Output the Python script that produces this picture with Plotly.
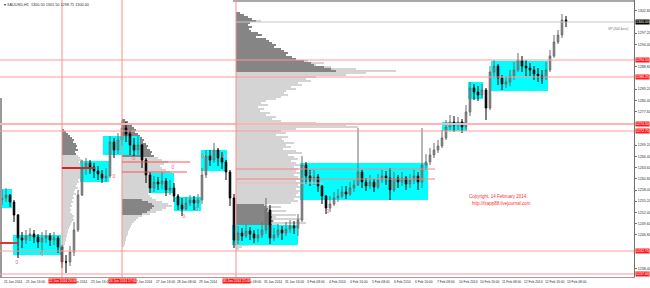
import plotly.graph_objects as go

# ---------------- price data (H1 XAUUSD, resampled) ----------------
close = [1256.0, 1256.75, 1255.0, 1251.75, 1246.0, 1245.5, 1246.5, 1247.0, 1246.25, 1245.0,
         1246.0, 1246.5, 1245.5, 1246.0, 1243.75, 1240.0, 1240.0, 1242.5, 1248.0, 1256.75,
         1263.5, 1264.75, 1263.75, 1262.75, 1262.0, 1261.0, 1261.5, 1270.0, 1268.0, 1270.5,
         1273.5, 1272.0, 1269.25, 1268.0, 1269.25, 1265.5, 1261.75, 1258.5, 1260.0, 1259.5,
         1260.25, 1258.0, 1258.5, 1256.5, 1254.25, 1253.25, 1254.75, 1255.5, 1254.75, 1255.5,
         1261.75, 1266.5, 1265.5, 1268.0, 1266.0, 1265.0, 1262.5, 1256.0, 1245.5, 1247.25,
         1246.5, 1247.75, 1247.0, 1246.0, 1246.75, 1248.0, 1253.0, 1246.0, 1246.75, 1248.0,
         1247.25, 1248.25, 1249.0, 1248.5, 1250.5, 1264.25, 1261.5, 1260.5, 1261.25, 1259.0,
         1256.5, 1253.5, 1254.5, 1256.0, 1256.5, 1257.5, 1257.0, 1258.5, 1259.25, 1262.5,
         1260.0, 1259.0, 1260.0, 1258.75, 1260.5, 1261.5, 1261.0, 1258.0, 1261.0, 1260.0,
         1261.0, 1259.5, 1260.5, 1261.5, 1260.0, 1264.25, 1265.0, 1266.75, 1268.0, 1269.0,
         1271.0, 1273.75, 1275.0, 1274.25, 1275.0, 1273.75, 1277.5, 1283.5, 1282.5, 1281.75,
         1283.0, 1278.5, 1287.5, 1289.0, 1286.0, 1284.5, 1285.0, 1286.5, 1288.0, 1290.5,
         1289.0, 1288.5, 1288.0, 1287.0, 1286.5, 1286.0, 1288.0, 1291.5, 1295.0, 1296.75,
         1300.5, 1300.0]
high = [1258.0, 1258.5, 1257.0, 1255.5, 1252.0, 1247.5, 1248.0, 1248.5, 1248.0, 1247.0,
        1247.5, 1248.0, 1247.25, 1247.5, 1246.5, 1244.25, 1241.75, 1244.0, 1250.0, 1258.0,
        1265.5, 1266.0, 1265.5, 1264.75, 1264.0, 1263.0, 1263.5, 1271.5, 1271.0, 1272.25,
        1275.5, 1275.0, 1273.0, 1271.0, 1271.5, 1269.5, 1266.0, 1262.5, 1261.5, 1261.25,
        1262.5, 1261.0, 1260.5, 1259.75, 1257.0, 1256.0, 1256.25, 1256.75, 1256.5, 1257.0,
        1263.5, 1268.0, 1268.0, 1269.75, 1268.5, 1267.5, 1265.5, 1263.0, 1257.0, 1249.0,
        1248.5, 1249.25, 1248.75, 1248.0, 1248.25, 1250.0, 1256.0, 1254.25, 1248.5, 1249.5,
        1249.0, 1250.0, 1250.5, 1250.25, 1252.0, 1266.5, 1265.0, 1263.0, 1263.0, 1262.0,
        1259.25, 1256.75, 1256.5, 1257.5, 1258.25, 1259.0, 1259.0, 1260.0, 1260.5, 1273.5,
        1263.0, 1261.0, 1261.75, 1260.75, 1262.0, 1263.0, 1262.75, 1263.5, 1262.5, 1261.75,
        1262.5, 1261.5, 1262.0, 1263.0, 1262.5, 1273.5, 1267.0, 1268.5, 1269.75, 1270.5,
        1273.0, 1275.5, 1276.75, 1276.5, 1276.25, 1275.75, 1279.25, 1285.0, 1284.5, 1284.0,
        1284.5, 1283.5, 1289.0, 1290.5, 1289.5, 1286.75, 1286.5, 1288.0, 1290.0, 1292.25,
        1291.5, 1290.5, 1289.75, 1289.0, 1288.5, 1288.0, 1290.0, 1293.0, 1296.75, 1298.0,
        1302.0, 1301.5]
low = [1254.25, 1255.0, 1253.75, 1250.0, 1241.0, 1243.5, 1244.5, 1245.25, 1244.75, 1243.5,
       1242.5, 1244.75, 1244.0, 1244.25, 1242.25, 1238.5, 1237.25, 1239.0, 1241.5, 1247.5,
       1256.5, 1261.75, 1262.0, 1261.0, 1260.5, 1259.75, 1260.0, 1261.0, 1266.0, 1267.0,
       1269.0, 1270.0, 1266.75, 1266.5, 1266.75, 1263.5, 1259.75, 1257.25, 1257.5, 1258.0,
       1258.25, 1256.5, 1256.75, 1255.0, 1253.0, 1251.5, 1253.0, 1254.0, 1253.0, 1253.5,
       1254.5, 1261.0, 1264.0, 1264.75, 1264.0, 1263.25, 1260.5, 1254.0, 1243.5, 1244.5,
       1245.25, 1246.0, 1245.5, 1244.75, 1245.0, 1246.0, 1247.0, 1244.5, 1245.25, 1246.0,
       1245.5, 1246.5, 1247.25, 1247.0, 1246.5, 1250.0, 1259.5, 1259.0, 1259.25, 1257.5,
       1254.5, 1252.0, 1252.5, 1254.0, 1255.0, 1256.0, 1255.75, 1256.5, 1257.5, 1259.0,
       1258.5, 1257.75, 1258.25, 1257.5, 1258.25, 1259.75, 1259.25, 1255.5, 1257.5, 1258.5,
       1259.0, 1258.0, 1258.5, 1259.5, 1258.0, 1258.5, 1263.0, 1264.25, 1266.0, 1267.25,
       1268.5, 1270.5, 1273.0, 1272.5, 1273.0, 1272.25, 1273.0, 1276.5, 1280.5, 1280.25,
       1281.0, 1275.5, 1278.0, 1286.0, 1284.25, 1283.0, 1283.5, 1284.0, 1285.5, 1287.5,
       1287.5, 1286.5, 1286.5, 1285.5, 1285.0, 1284.5, 1285.5, 1287.5, 1291.0, 1294.5,
       1296.0, 1298.75]
first_open = 1255.5
opens = [first_open] + close[:-1]
bars = list(range(len(close)))

# ---------------- volume profiles (volume per 0.5 price row, top row first) ----------------
ROW = 0.5
p1_start, p1_top = 15.0, 1273.0
p1_vol = [2, 4, 6, 8, 10, 12, 11, 14, 15, 14, 16, 13, 14, 16, 18, 20, 17, 22, 28, 33, 26, 22, 20, 18,
          19, 16, 17, 15, 14, 16, 13, 12, 14, 11, 12, 10, 11, 9, 10, 8, 9, 8, 10, 12, 11, 12, 10, 9,
          8, 7, 6, 6, 5, 5, 4, 4, 3, 3, 2, 2, 1]
p1_dark = [2, 4, 6, 8, 10, 12, 11, 14, 15, 14, 16, 13, 14]

p2_start, p2_top = 30.0, 1275.5
p2_vol = [3, 6, 8, 10, 12, 14, 13, 16, 18, 20, 22, 21, 24, 26, 25, 28, 30, 29, 32, 36, 40, 46, 42, 38,
          40, 44, 48, 40, 36, 38, 34, 36, 32, 30, 33, 28, 30, 26, 28, 30, 34, 40, 46, 50, 44, 40, 34, 28,
          20, 16, 14, 12, 10, 9, 8, 7, 6, 6, 5, 4, 4, 3, 3, 2]
p2_dark_top = [3, 6, 8, 10, 12, 14, 13, 16, 18, 20, 22, 21, 24, 26, 25, 28, 30, 29, 32]
p2_dark_low_top, p2_dark_low = 1255.5, [20, 26, 30, 32, 30, 28, 25, 20]

p3_start, p3_top = 58.5, 1302.25
p3_vol = [4, 8, 12, 16, 25, 14, 12, 16, 13, 15, 22, 26, 20, 30, 33, 36, 40, 38, 45, 48, 52, 50, 56, 60,
          72, 88, 80, 95, 120, 160, 130, 110, 80, 70, 75, 62, 66, 55, 60, 50, 48, 52, 45, 40, 30, 25,
          32, 22, 28, 24, 34, 30, 40, 36, 45, 80, 110, 122, 60, 45, 50, 40, 52, 46, 48, 58, 50, 55,
          47, 60, 66, 52, 58, 62, 55, 60, 64, 58, 62, 60, 66, 58, 62, 64, 60, 70, 62, 64, 60, 66, 62,
          60, 64, 58, 62, 55, 30, 45, 34, 50, 36, 60, 40, 66, 38, 70, 42, 62, 40, 55, 36, 40, 30, 44,
          25, 20, 12, 6, 3]
p3_dark_top = [4, 8, 12, 16, 20, 14, 12, 16, 13, 15, 22, 26, 20, 30, 33, 36, 40, 38, 45, 48, 52, 50,
               56, 60, 68, 75, 78, 88, 95, 100]
p3_dark_low_top = 1254.25
p3_dark_low = [28, 30, 32, 30, 34, 33, 36, 34, 37, 35, 36, 34, 33, 32, 30, 28, 25]

# ---------------- cyan consolidation boxes (bar index / price) ----------------
box_x0 = [-0.5, 2.75, 19.5, 25.25, 37.0, 43.0, 49.75, 57.5, 74.5, 110.0, 116.5, 122.25]
box_x1 = [2.5, 14.75, 26.75, 34.5, 43.0, 49.75, 56.25, 74.0, 106.5, 116.25, 120.25, 136.5]
box_top = [1258.25, 1246.75, 1265.25, 1271.5, 1262.25, 1256.25, 1268.0, 1249.25, 1264.75, 1275.0,
           1285.0, 1290.25]
box_bot = [1253.5, 1241.75, 1260.0, 1266.75, 1257.25, 1252.75, 1262.75, 1244.25, 1255.5, 1272.75,
           1280.75, 1282.75]

# ---------------- levels ----------------
hlines = [1290.5, 1286.25, 1274.5, 1272.75, 1242.75, 1237.0]
vlines = [15.0, 30.0, 58.5]
vline_labels = ["22 Jan 2014 20:00", "24 Jan 2014 17:00", "30 Jan 2014 21:00"]
last_price = 1300.0

# fractal marks
frac_x = [3.75, 10.0, 20.0, 28.0, 33.0, 42.75, 45.5, 48.75, 50.25, 55.25, 75.5, 77.0, 81.5, 58.25]
frac_y = [1239.75, 1241.75, 1264.75, 1261.25, 1265.75, 1263.5, 1251.25, 1253.0, 1266.25, 1266.25,
          1263.5, 1262.0, 1252.5, 1244.25]

# axis labels (those hidden under the price/date boxes are left out)
y_ticks = [1302.8, 1297.2, 1294.4, 1288.8, 1283.2, 1280.4, 1277.6,
           1269.2, 1266.4, 1263.6, 1260.8, 1258.0, 1255.2, 1252.4, 1249.6, 1246.8,
           1238.4]
x_label_slots = [0, 1, 3, 4, 6, 7, 8, 9, 11, 12, 13, 14, 15, 16, 17, 18, 19, 20, 21, 22, 23, 24, 25, 26]
x_labels = ["21 Jan 2014", "21 Jan 16:00", "23 Jan 2014", "23 Jan 16:00",
            "27 Jan 2014", "27 Jan 16:00", "28 Jan 08:00", "29 Jan 2014",
            "30 Jan 08:00", "31 Jan 2014", "31 Jan 16:00", "3 Feb 08:00",
            "4 Feb 2014", "4 Feb 16:00", "5 Feb 08:00", "6 Feb 2014", "6 Feb 16:00", "7 Feb 08:00",
            "10 Feb 2014", "10 Feb 16:00", "11 Feb 08:00", "12 Feb 2014", "12 Feb 16:00",
            "13 Feb 08:00"]
BARS_PER_LABEL = 5.4125

PX = 0.25  # bar units per volume unit
FONT = "Liberation Sans Narrow, Tahoma, Arial, sans-serif"
LIGHT = "#d4d4d4"
DARK = "#858585"
SMALL = 3.3

fig = go.Figure()


def prof(start, top, vols, color):
    ys = [top - ROW * k for k in range(len(vols))]
    return go.Bar(orientation="h", y=ys, x=[v * PX for v in vols], base=start, width=ROW,
                  marker=dict(color=color, line=dict(width=0)), hoverinfo="skip", showlegend=False)


fig.add_trace(prof(p1_start, p1_top, p1_vol, LIGHT))
fig.add_trace(prof(p1_start, p1_top, p1_dark, DARK))
fig.add_trace(prof(p2_start, p2_top, p2_vol, LIGHT))
fig.add_trace(prof(p2_start, p2_top, p2_dark_top, DARK))
fig.add_trace(prof(p2_start, p2_dark_low_top, p2_dark_low, DARK))
fig.add_trace(prof(p3_start, p3_top, p3_vol, LIGHT))
fig.add_trace(prof(p3_start, p3_top, p3_dark_top, DARK))
fig.add_trace(prof(p3_start, p3_dark_low_top, p3_dark_low, DARK))

# cyan boxes as bars (drawn above the profiles, below candles)
fig.add_trace(go.Bar(x=[(a + b) / 2 for a, b in zip(box_x0, box_x1)],
                     y=[t - b for t, b in zip(box_top, box_bot)], base=box_bot,
                     width=[b - a for a, b in zip(box_x0, box_x1)],
                     marker=dict(color="#00ffff", line=dict(width=0)),
                     hoverinfo="skip", showlegend=False))

fig.add_trace(go.Candlestick(
    x=bars, open=opens, high=high, low=low, close=close,
    increasing=dict(line=dict(color="#6a6a6a", width=1), fillcolor="#9a9a9a"),
    decreasing=dict(line=dict(color="#000000", width=1), fillcolor="#000000"),
    whiskerwidth=0, showlegend=False, hoverinfo="skip"))

fig.add_trace(go.Scatter(x=frac_x, y=frac_y, mode="text", text=["0"] * len(frac_x),
                         textfont=dict(size=5, color="#ff5a5a", family=FONT),
                         hoverinfo="skip", showlegend=False))

shapes = []
shapes.append(dict(type="rect", xref="x", yref="y", x0=-0.5, x1=0.0, y0=1236.25, y1=1281,
                   fillcolor="#9a9a9a", line=dict(width=0), layer="above"))
shapes.append(dict(type="rect", xref="x", yref="y", x0=57.75, x1=158, y0=1305.0, y1=1305.5,
                   fillcolor="#a8a8a8", line=dict(width=0), layer="above"))
shapes.append(dict(type="line", xref="x", yref="y", x0=58.5, x1=158, y0=last_price, y1=last_price,
                   line=dict(color="#c8c8c8", width=1), layer="above"))
for i, h in enumerate(hlines):
    w = 2 if i == 2 else 1
    c = "#ffb4b4" if i == 2 else "#ff9a9a"
    shapes.append(dict(type="line", xref="x", yref="y", x0=-0.5, x1=158, y0=h, y1=h,
                       line=dict(color=c, width=w), layer="above"))
for v in vlines:
    shapes.append(dict(type="line", xref="x", yref="paper", x0=v, x1=v, y0=0, y1=1,
                       line=dict(color="#ff8c8c", width=1), layer="above"))
segs = [(-0.5, 4.0, 1244.75, "#e83030", 2), (15.0, 23.25, 1263.5, "#e02020", 2),
        (30.0, 47.0, 1265.0, "#ff5050", 1), (30.0, 46.25, 1262.5, "#ff5050", 1),
        (58.5, 108.25, 1263.25, "#ff8080", 1), (58.5, 108.25, 1260.75, "#ff8080", 1),
        (58.5, 80.25, 1259.75, "#f0b8b8", 1)]
for x0, x1, yv, c, w in segs:
    shapes.append(dict(type="line", xref="x", yref="y", x0=x0, x1=x1, y0=yv, y1=yv,
                       line=dict(color=c, width=w), layer="above"))

ann = []
ann.append(dict(xref="paper", yref="paper", x=0, y=1, xshift=2, yshift=-1, xanchor="left",
                yanchor="top", showarrow=False,
                text="▾ XAUUSD,H1  %.2f %.2f %.2f %.2f" % (opens[-1], high[-1], low[-1], close[-1]),
                font=dict(size=3.8, color="#303030", family=FONT)))
for k, lab in zip(x_label_slots, x_labels):
    ann.append(dict(xref="x", yref="paper", x=k * BARS_PER_LABEL, y=0, yshift=-1, xanchor="left",
                    yanchor="top", showarrow=False, text=lab,
                    font=dict(size=SMALL, color="#303030", family=FONT)))
for v, lab in zip(vlines, vline_labels):
    ann.append(dict(xref="x", yref="paper", x=v, y=0, yshift=-1, xanchor="center", yanchor="top",
                    showarrow=False, text=lab, bgcolor="#ff1a1a", borderpad=0,
                    font=dict(size=SMALL, color="#ffffff", family=FONT)))
for h in hlines:
    ann.append(dict(xref="paper", yref="y", x=1, y=h, xshift=1, xanchor="left", yanchor="middle",
                    showarrow=False, text="%.2f" % h, bgcolor="#ff1a1a", borderpad=0,
                    font=dict(size=3.6, color="#ffffff", family=FONT)))
ann.append(dict(xref="paper", yref="y", x=1, y=last_price, xshift=1, xanchor="left",
                yanchor="middle", showarrow=False, text="%.2f" % last_price, bgcolor="#000000",
                borderpad=0, font=dict(size=3.6, color="#ffffff", family=FONT)))
ann.append(dict(xref="x", yref="y", x=151, y=last_price, yshift=-3, xanchor="left", yanchor="top",
                showarrow=False, text="VP (300 bars)", font=dict(size=3.3, color="#707070", family=FONT)))
ann.append(dict(xref="x", yref="y", x=116.25, y=1256.5, xanchor="left", yanchor="middle",
                showarrow=False, text="Copyright, 14 February 2014.",
                font=dict(size=4.5, color="#ff3030", family="Liberation Sans, Arial")))
ann.append(dict(xref="x", yref="y", x=117.0, y=1254.6, xanchor="left", yanchor="middle",
                showarrow=False, text="http://fxapp88.livejournal.com",
                font=dict(size=4.5, color="#ff3030", family="Liberation Sans, Arial")))

fig.update_layout(
    width=650, height=288, margin=dict(l=0, r=16, t=0, b=11),
    paper_bgcolor="#ffffff", plot_bgcolor="#ffffff",
    barmode="overlay", bargap=0, boxgap=0.45, showlegend=False,
    shapes=shapes, annotations=ann,
    xaxis=dict(range=[-0.5, 158.0], showgrid=False, zeroline=False, showticklabels=False,
               rangeslider=dict(visible=False), showline=True, linecolor="#9a9a9a", linewidth=1,
               fixedrange=True),
    yaxis=dict(range=[1236.25, 1305.5], side="right", showgrid=False, zeroline=False,
               tickvals=y_ticks, ticktext=["%.2f" % t for t in y_ticks], ticks="outside",
               ticklen=2, tickcolor="#707070", tickfont=dict(size=3.6, color="#303030", family=FONT),
               showline=True, linecolor="#707070", linewidth=1, fixedrange=True),
)

fig.write_html("out.html")
